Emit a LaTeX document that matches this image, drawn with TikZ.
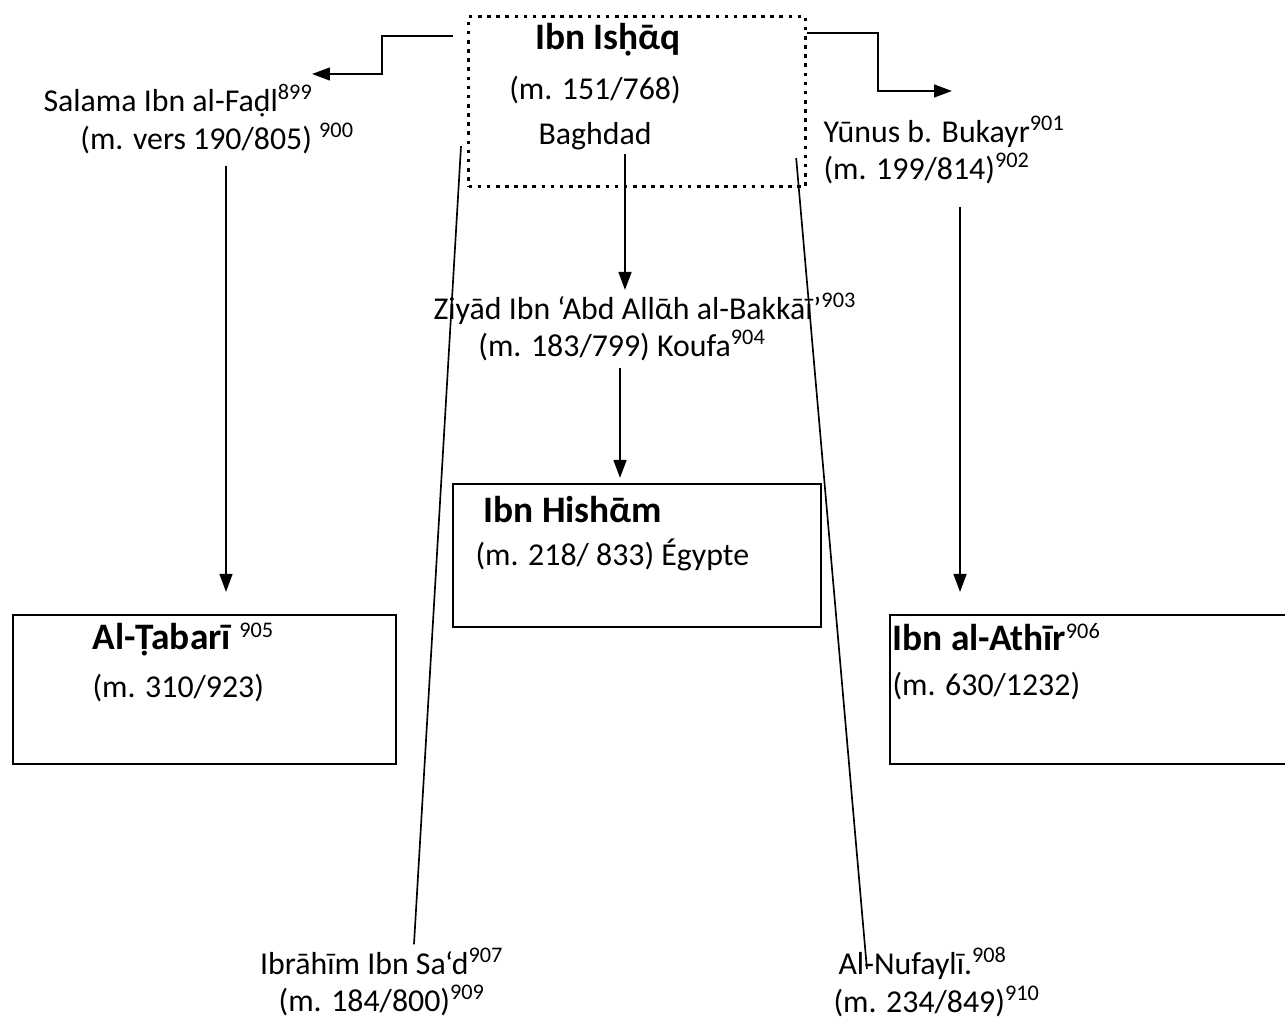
\documentclass[tikz,border=0pt]{standalone}
\usepackage{fontspec}
\setmainfont{Carlito}
\usetikzlibrary{arrows.meta, calc, positioning}
\tikzstyle{box} = [rectangle, draw=black, line width=0.8pt, anchor=north west, inner sep=0pt]
\tikzstyle{dotbox} = [rectangle, draw=black, line width=1.1pt, dash pattern=on 1.3pt off 2pt, anchor=north west, inner sep=0pt]
\tikzstyle{title} = [font=\fontsize{13.5}{16}\selectfont\bfseries, anchor=west, inner sep=0pt]
\tikzstyle{txt} = [font=\fontsize{11.5}{13.5}\selectfont, inner sep=0pt]
\tikzstyle{arrow} = [line width=0.8pt, ->, >={Triangle[length=6.5pt,width=4.6pt]}]
\tikzstyle{link} = [line width=0.6pt]
\newcommand{\fn}[1]{{\normalfont\fontsize{11.5}{13.5}\selectfont\textsuperscript{#1}}}

\begin{document}
\begin{tikzpicture}[x=0.0127cm, y=-0.0127cm]
		\useasboundingbox (0,0) rectangle (1285,1022);
		% boxes
		\node (ishaq) [dotbox, minimum width=4.28cm, minimum height=2.16cm] at (467,15) {};
		\node (hisham) [box, minimum width=4.674cm, minimum height=1.816cm] at (452,483) {};
		\node (tabari) [box, minimum width=4.864cm, minimum height=1.892cm] at (12,614) {};
		\node (athir) [box, minimum width=5.08cm, minimum height=1.892cm] at (889,614) {};
		% texts
		\node (ishaqT) [title, anchor=center] at (608,40) {Ibn Isḥᾱq};
		\node (ishaqD) [txt, align=center, font=\fontsize{11.5}{16.2}\selectfont] at (595,113) {(m. 151/768)\\Baghdad};
		\node (salama) [txt, align=left, anchor=west] at (43,119) {Salama Ibn al-Faḍl\fn{899}\\\hspace*{13.3pt}(m. vers 190/805) \fn{900}};
		\node (yunus) [txt, align=left, anchor=west] at (823,150) {Yūnus b. Bukayr\fn{901}\\(m. 199/814)\fn{902}};
		\node (ziyad) [txt, align=left, anchor=west] at (433,327) {Ziyād Ibn ‘Abd Allᾱh al-Bakkāī’\fn{903}\\\hspace*{16.2pt}(m. 183/799) Koufa\fn{904}};
		\node (hishamT) [title] at (483,510) {Ibn Hishᾱm};
		\node (hishamD) [txt, anchor=west] at (475,555) {(m. 218/ 833) Égypte};
		\node (tabariT) [title] at (92,640) {Al-Ṭabarī \fn{905}};
		\node (tabariD) [txt, anchor=west] at (92,688) {(m. 310/923)};
		\node (athirT) [title] at (892,637) {Ibn al-Athīr\fn{906}};
		\node (athirD) [txt, anchor=west] at (892,686) {(m. 630/1232)};
		\node (ibrahim) [txt, align=center] at (382,982) {Ibrāhīm Ibn Sa‘d\fn{907}\\(m. 184/800)\fn{909}};
		\node (nufayli) [txt, align=left, anchor=west] at (833,982) {\hspace*{1.8pt}Al-Nufaylī.\fn{908}\\(m. 234/849)\fn{910}};
		% arrow ends
		\coordinate (salamaIn) at (312,74);
		\coordinate (yunusIn) at (952,91);
		\coordinate (tabariIn) at (226,592);
		\coordinate (athirIn) at (960,592);
		\coordinate (ziyadIn) at (625,290);
		\coordinate (hishamIn) at (620,478);
		% connectors
		\draw [arrow] ($(ishaq.north west)+(-14,21)$) -| ($(salamaIn)+(70,0)$) -- (salamaIn);
		\draw [arrow] ($(ishaq.north east)+(0,18)$) -| ($(yunusIn)+(-74,0)$) -- (yunusIn);
		\draw [arrow] ($(salama.south -| tabariIn)+(0,12)$) -- (tabariIn);
		\draw [arrow] ($(yunus.south -| athirIn)+(0,22)$) -- (athirIn);
		\draw [arrow] ($(ishaqD.south -| ziyadIn)+(0,4)$) -- (ziyadIn);
		\draw [arrow] ($(ziyad.south -| hishamIn)+(0,6)$) -- (hishamIn);
		\draw [link] ($(ishaq.south west)+(-6,-42)$) -- ($(ibrahim.north)+(32,-3)$);
		\draw [link] ($(ishaq.south east)+(-11,-30)$) -- ($(nufayli.north)+(-70,22)$);
\end{tikzpicture}
\end{document}
